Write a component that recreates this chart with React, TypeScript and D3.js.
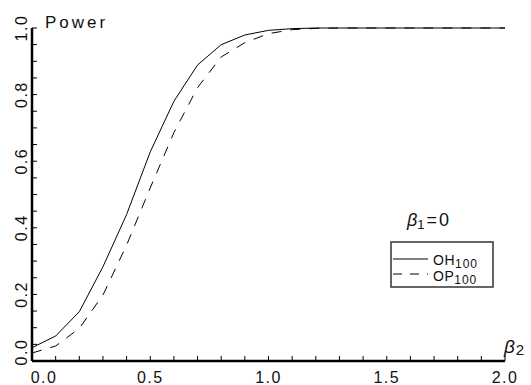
import React from "react";
import * as d3 from "d3";

const beta2 = [0, 0.1, 0.2, 0.3, 0.4, 0.5, 0.6, 0.7, 0.8, 0.9, 1.0, 1.1, 1.2, 1.3, 1.4, 1.5, 1.6, 1.7, 1.8, 1.9, 2.0];
const powerOH = [0.04, 0.075, 0.148, 0.283, 0.44, 0.628, 0.78, 0.889, 0.95, 0.979, 0.993, 0.998, 1, 1, 1, 1, 1, 1, 1, 1, 1];
const powerOP = [0.024, 0.045, 0.098, 0.198, 0.348, 0.52, 0.686, 0.821, 0.913, 0.956, 0.983, 0.995, 0.999, 1, 1, 1, 1, 1, 1, 1, 1];
const xTickLabels = ["0.0", "0.5", "1.0", "1.5", "2.0"];
const xTickValues = [0, 0.5, 1.0, 1.5, 2.0];
const yTickLabels = ["0.0", "0.2", "0.4", "0.6", "0.8", "1.0"];
const yTickValues = [0, 0.2, 0.4, 0.6, 0.8, 1.0];
const xMinor = d3.range(0, 21).map((i) => i / 10);
const yMinor = d3.range(0, 21).map((i) => i / 20);

const W = 531;
const H = 385;
const FONT = "'Liberation Sans', Arial, sans-serif";

export default function App() {
  const x = d3.scaleLinear().domain([0, 2]).range([32, 505]);
  const y = d3.scaleLinear().domain([0, 1]).range([361, 28]);
  const line = d3
    .line<number>()
    .x((_, i) => x(beta2[i]))
    .y((d) => y(d));

  return (
    <svg
      width={W}
      height={H}
      style={{ position: "absolute", left: 0, top: 0, background: "#fff" }}
      fontFamily={FONT}
    >
      {/* curves */}
      <path d={line(powerOH) || ""} fill="none" stroke="#000" strokeWidth={1} />
      <path d={line(powerOP) || ""} fill="none" stroke="#000" strokeWidth={1} strokeDasharray="10,9" />

      {/* axes */}
      <line x1={x(0)} x2={x(2)} y1={y(0)} y2={y(0)} stroke="#000" strokeWidth={2.5} />
      <line x1={x(0)} x2={x(0)} y1={y(0)} y2={y(1)} stroke="#000" strokeWidth={2.5} />
      {xMinor.map((v, i) => (
        <line key={"xm" + i} x1={x(v)} x2={x(v)} y1={y(0)} y2={y(0) - 5} stroke="#000" strokeWidth={1} />
      ))}
      {yMinor.map((v, i) => (
        <line key={"ym" + i} x1={x(0)} x2={x(0) + 5} y1={y(v)} y2={y(v)} stroke="#000" strokeWidth={1} />
      ))}
      {xTickValues.map((v, i) => (
        <text
          key={"xl" + i}
          x={x(v) + (i === 0 ? 12 : 0)}
          y={383}
          fontSize={16}
          letterSpacing={1.5}
          textAnchor="middle"
          fill="#111"
        >
          {xTickLabels[i]}
        </text>
      ))}
      {yTickValues.map((v, i) => (
        <text
          key={"yl" + i}
          transform={`translate(27,${y(v) - (i === 0 ? 9 : 0)}) rotate(-90)`}
          fontSize={16}
          letterSpacing={1.5}
          textAnchor="middle"
          fill="#111"
        >
          {yTickLabels[i]}
        </text>
      ))}

      {/* axis titles */}
      <text x={45} y={28} fontSize={17} letterSpacing={3} fill="#111">
        Power
      </text>
      <text x={504} y={353} fontSize={19} fontStyle="italic" fill="#111">
        β
        <tspan fontSize={15} fontStyle="normal" dy={2} dx={1}>
          2
        </tspan>
      </text>

      {/* annotation */}
      <text x={407} y={226} fontSize={18} fill="#111">
        <tspan fontStyle="italic">β</tspan>
        <tspan fontSize={13} dy={3}>1</tspan>
        <tspan dy={-3} dx={2} letterSpacing={2}>=0</tspan>
      </text>

      {/* legend */}
      <rect x={391} y={242} width={102} height={45} fill="#fff" stroke="#333" strokeWidth={1.5} />
      <line x1={393} x2={428} y1={259} y2={259} stroke="#000" strokeWidth={1} />
      <line x1={393} x2={428} y1={274} y2={274} stroke="#000" strokeWidth={1} strokeDasharray="9,8" />
      <text x={433} y={265} fontSize={14} letterSpacing={0.5} fill="#111">
        OH
        <tspan fontSize={12} dy={3} letterSpacing={1}>100</tspan>
      </text>
      <text x={433} y={281} fontSize={14} letterSpacing={0.5} fill="#111">
        OP
        <tspan fontSize={12} dy={3} letterSpacing={1}>100</tspan>
      </text>
    </svg>
  );
}
